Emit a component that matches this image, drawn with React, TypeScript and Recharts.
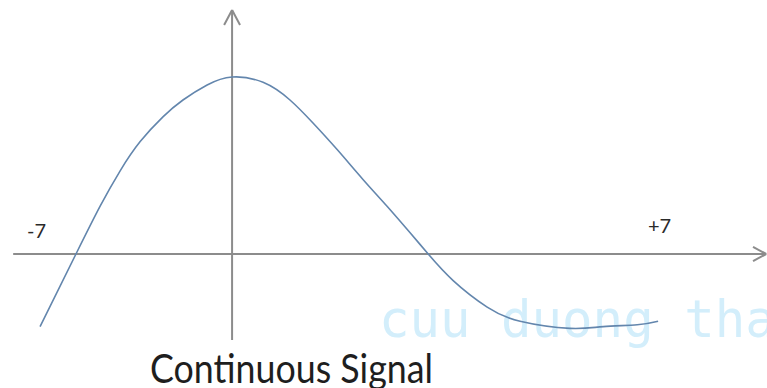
import { Line, LineChart, ReferenceLine, XAxis, YAxis } from "recharts";

// time samples and signal amplitude (peak = 1)
const timeValues = [
  -7.0, -5.69, -4.81, -4.08, -3.35, -2.52, -1.79, -0.91, 0, 1.13, 2.11, 2.95, 3.83, 4.78, 5.65,
  6.49, 7.15, 8.06, 9.3, 10.5, 12.32, 13.53, 14.77, 15.53
];
const signalValues = [
  -0.41, 0, 0.27, 0.47, 0.635, 0.775, 0.87, 0.955, 1.0, 0.97, 0.87, 0.74, 0.59, 0.42, 0.27, 0.12,
  0, -0.15, -0.3, -0.38, -0.42, -0.41, -0.4, -0.38
];
const endLabels = ["-7", "+7"];
const caption = "Continuous Signal";
const watermark = "cuu duong than cong . com";

const chartData = timeValues.map((t, i) => ({ t, value: signalValues[i] }));

const X_DOMAIN: [number, number] = [-8.46, 19.5];
const Y_DOMAIN: [number, number] = [-0.757, 1.435];
const AXIS_COLOR = "#8c8c8c";

export default function App() {
  return (
    <div style={{ position: "absolute", left: 0, top: 0, width: 767, height: 388, background: "#fff" }}>
      <LineChart width={767} height={388} data={chartData} margin={{ top: 0, right: 0, bottom: 0, left: 0 }}>
        <XAxis dataKey="t" type="number" domain={X_DOMAIN} allowDataOverflow hide />
        <YAxis type="number" domain={Y_DOMAIN} allowDataOverflow hide />

        <text x={379} y={337} fontFamily="DejaVu Sans Mono" fontSize={50.7} fill="#d3eefb">
          {watermark}
        </text>

        {/* horizontal axis with open arrow head */}
        <ReferenceLine segment={[{ x: -7.98, y: 0 }, { x: 19.47, y: 0 }]} stroke={AXIS_COLOR} strokeWidth={2} />
        <ReferenceLine segment={[{ x: 18.99, y: 0.04 }, { x: 19.47, y: 0 }]} stroke={AXIS_COLOR} strokeWidth={2} />
        <ReferenceLine segment={[{ x: 18.99, y: -0.04 }, { x: 19.47, y: 0 }]} stroke={AXIS_COLOR} strokeWidth={2} />

        {/* vertical axis with open arrow head */}
        <ReferenceLine segment={[{ x: 0, y: -0.486 }, { x: 0, y: 1.379 }]} stroke={AXIS_COLOR} strokeWidth={2} />
        <ReferenceLine segment={[{ x: -0.29, y: 1.294 }, { x: 0, y: 1.379 }]} stroke={AXIS_COLOR} strokeWidth={2} />
        <ReferenceLine segment={[{ x: 0.29, y: 1.294 }, { x: 0, y: 1.379 }]} stroke={AXIS_COLOR} strokeWidth={2} />

        <Line
          type="natural"
          dataKey="value"
          stroke="#6386ad"
          strokeWidth={1.6}
          dot={false}
          activeDot={false}
          isAnimationActive={false}
        />

        <text x={27} y={238} fontFamily="Lato" fontSize={20} fill="#2a2a2a">
          {endLabels[0]}
        </text>
        <text x={648} y={233} fontFamily="Lato" fontSize={20} fill="#2a2a2a">
          {endLabels[1]}
        </text>
        <text
          x={150}
          y={383}
          fontFamily="Lato"
          fontSize={40}
          fill="#1e1e1e"
          textLength={283}
          lengthAdjust="spacingAndGlyphs"
        >
          {caption}
        </text>
      </LineChart>
    </div>
  );
}
